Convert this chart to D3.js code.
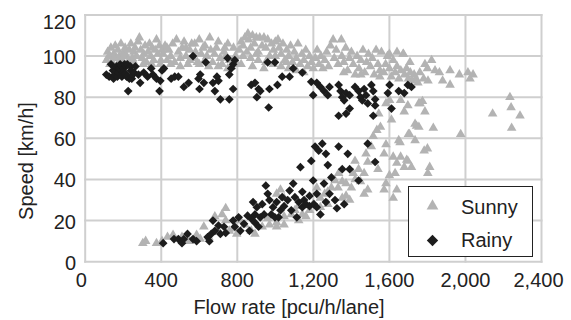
<!DOCTYPE html>
<html>
<head>
<meta charset="utf-8">
<script src="https://cdn.jsdelivr.net/npm/d3@7"></script>
<style>
  body { margin: 0; background: #fff; }
  text { font-family: "Liberation Sans", Arial, sans-serif; fill: #222; }
</style>
</head>
<body>
<div id="chart"></div>
<script>
// ticks and labels
var xTicks = [0, 400, 800, 1200, 1600, 2000, 2400];
var yTicks = [0, 20, 40, 60, 80, 100, 120];
var seriesNames = ["Sunny", "Rainy"];

// Sunny, free-flow branch [flow, speed]
var sunnyFree = [
  [112,98],[118,102],[125,100],[135,104],[142,97],[150,101],[158,105],[165,99],[172,103],[180,100],
  [188,106],[195,98],[203,102],[210,104],[218,100],[225,97],[232,103],[240,106],[248,99],[255,102],
  [262,104],[270,100],[278,107],[285,109],[292,103],[300,99],[308,101],[315,105],[322,97],[330,102],
  [338,106],[345,100],[352,104],[360,98],[368,103],[375,108],[382,101],[390,105],[398,98],[405,103],
  [130,96],[170,96],[215,96],[260,96],[305,96],[350,96],[395,96],[150,99],[200,100],[250,98],
  [410,101],[420,105],[430,98],[440,103],[450,100],[460,106],[470,97],[480,108],[490,102],[500,99],
  [510,104],[520,107],[530,100],[540,96],[550,103],[560,106],[570,99],[576,106],[580,102],[590,97],
  [600,108],[610,101],[620,104],[630,98],[640,100],[655,109],[660,103],[670,97],[680,101],[690,104],
  [700,107],[710,99],[720,96],[734,104],[740,100],[750,106],[760,98],[770,95],[780,104],[790,100],
  [800,96],[450,96],[500,95],[550,98],[600,96],[650,95],[700,95],[750,94],[430,104],[530,104],
  [630,105],[730,102],
  [810,103],[820,107],[830,105],[840,109],[856,111],[860,108],[870,104],[880,110],[890,106],[900,109],
  [910,102],[918,109],[930,105],[940,109],[950,104],[960,108],[970,100],[980,106],[990,103],[1000,107],
  [1014,108],[1020,104],[1030,101],[1040,106],[1050,98],[1060,103],[1070,100],[1080,105],[1090,97],[1100,102],
  [1110,99],[1119,106],[1130,96],[1140,101],[1150,98],[1160,103],[1170,95],[1180,100],[1190,97],[1200,94],
  [830,100],[870,99],[910,98],[950,97],[990,96],[1030,95],[1070,94],[1110,93],[1150,92],[850,102],
  [900,101],[1000,100],[1060,97],[820,96],[880,95],[940,94],
  [1210,99],[1220,103],[1230,96],[1240,100],[1250,94],[1260,98],[1270,102],[1280,95],[1290,105],[1304,108],
  [1310,99],[1320,103],[1330,96],[1347,108],[1350,100],[1360,97],[1370,104],[1380,93],[1390,99],[1400,102],
  [1410,96],[1420,91],[1430,100],[1440,94],[1450,98],[1461,103],[1470,92],[1480,97],[1490,101],[1500,95],
  [1510,99],[1520,91],[1530,103],[1540,96],[1550,93],[1558,102],[1570,92],[1580,96],[1590,100],[1600,94],
  [1610,90],[1620,98],[1630,92],[1640,95],[1650,89],[1660,93],[1672,101],[1680,91],[1690,94],[1700,89],
  [1710,92],[1720,88],[1730,91],[1740,89],[1750,87],[1360,92],[1450,91],[1550,90],[1600,101],[1640,102],
  [1674,101],[1708,97],[1760,92],[1787,96],[1803,88],[1822,98],[1840,93],[1863,92],[1880,88],[1919,93],
  [1919,86],[1968,91],[2013,92],[2024,89],[2040,91],[1780,89],[1800,94]
];

// Sunny, congested branch and scattered points [flow, speed]
var sunnyCongested = [
  [303,9],[318,10],[375,9],[404,10],[433,12],[462,13],[509,12],[548,10],[586,13],[605,11],
  [624,17],[682,22],[701,15],[720,23],[739,20],[739,26],[758,15],[797,13.5],[816,20],[873,15],
  [893,13.5],[931,17],[969,18],[1007,19],[1007,17],[1007,33],[1027,35],[1046,22],[1046,18],[1046,31],
  [1084,23],[1103,25],[1123,20],[1142,23],[1161,22],[1180,25],[1199,28],[1218,36],[1237,31],[1237,26.5],
  [1276,34],[1276,28],[1295,36],[1314,39.5],[1333,43],[1352,39],[1352,31],[1372,32],[1372,38],[1391,30],
  [1400,36],[1410,43],[1419,49],[1438,45],[1448,39],[1467,43],[1467,33],[1477,52.5],[1486,48.5],[1486,35],
  [1505,56],[1515,61],[1534,64],[1553,65.5],[1572,52.5],[1572,35],[1582,57],[1582,38],[1611,69],[1620,51],
  [1620,31],[1630,43],[1639,48],[1639,35],[1649,59],[1659,51],[1678,46],[1697,49],[1716,46],[1735,59],
  [1755,65.5],[1783,54],[1802,43],[1812,46],[1656,58],[1691,49.5],[1743,66],[1831,65],[1700,62],[1800,55],
  [1544,72],[1582,77],[1601,78.5],[1659,78.5],[1678,73],[1697,76],[1735,67],[1706,62],[1755,77],[1774,78],
  [1761,77],[1787,73],[1975,62],[2143,72],[2234,80],[2240,75],[2287,71],[2243,65],
  [650,12],[780,16],[840,18],[960,21],[1120,27],[1260,33],[1330,36],[1420,40],[1540,45],[1600,42]
];

// Rainy, free-flow branch [flow, speed]
var rainyFree = [
  [111,91],[126,90],[136,96],[146,93],[149,89],[155,91],[161,93],[165,95],[169,90],[174,92],
  [180,94],[184,96],[193,90],[193,95],[199,92],[203,94],[207,96],[213,91.5],[218,90],[222,96],
  [226,83],[232,89],[238,95],[241,93],[245,89],[251,91],[257,92],[264,95],[280,91],[289,87],
  [308,92],[328,90],[347,94],[356,91],[375,89],[391,83],[395,88],[404,93],[414,94],[452,89],
  [471,90],[490,90],[519,85],[544,87],[567,100],[596,89],[601,84],[605,91],[624,87],[634,97],
  [672,87],[682,83],[693,90],[701,88],[711,79],[749,99],[758,91],[758,79],[768,94],[778,96],
  [778,84],[787,98],[873,86],[893,87],[903,80],[912,84],[921,83],[960,97],[965,75],[969,84],
  [998,97],[1011,86],[1036,90],[1075,90],[1094,94],[1142,92],[1189,87.5],[1199,81],[1218,87],[1237,85],
  [1256,83],[1276,81],[1285,85],[1333,86],[1333,71],[1343,83],[1352,80],[1362,78.5],[1372,82],[1372,72],
  [1391,81],[1391,74.5],[1419,85],[1438,83],[1448,80],[1457,78.5],[1467,84],[1477,81],[1486,77],[1505,86],
  [1515,83],[1515,71],[1525,79],[1525,76],[1592,82],[1601,86],[1611,74.5],[1649,83],[1678,82],[1697,86],
  [1716,85]
];

// Rainy, congested branch [flow, speed]
var rainyCongested = [
  [410,9],[467,11],[490,11],[509,9],[519,11],[538,13.5],[567,11],[586,10],[644,12],[653,10],
  [663,13.5],[672,20],[682,15],[701,17.6],[711,13.5],[730,17],[739,14],[778,20],[787,17],[807,21.6],
  [816,15],[835,18.4],[854,22.4],[864,15],[873,21],[883,29],[893,23],[893,19],[903,26.5],[912,17],
  [921,21.6],[931,28],[941,23],[950,37],[960,33],[969,30],[979,23],[988,26.5],[998,21.6],[1007,29],
  [1017,21.6],[1027,25],[1036,31.4],[1046,27],[1065,30],[1075,34.6],[1084,25],[1094,38],[1103,31.4],[1113,21.6],
  [1123,29],[1132,46],[1142,34],[1142,26.5],[1151,30],[1161,28],[1180,32],[1180,27],[1189,49],[1199,39.5],
  [1203,28],[1209,56],[1218,33],[1218,26.5],[1228,54],[1237,23],[1247,57.4],[1256,38],[1266,52.5],[1266,29],
  [1276,47],[1285,33],[1295,41],[1314,30],[1324,26],[1333,56],[1352,45],[1362,28],[1381,52.5],[1391,45],
  [1438,39.5],[1486,57.4],[1525,48.5]
];

var W = 571, H = 320;

var svg = d3.select("#chart").append("svg")
    .attr("width", W)
    .attr("height", H);

var x = d3.scaleLinear().domain([0, 2400]).range([85.2, 541.5]);
var y = d3.scaleLinear().domain([0, 120]).range([261.7, 15]);

// grid, the outer frame is also grid colour
var grid = svg.append("g");
grid.selectAll("line.v").data(xTicks).enter().append("line")
    .attr("x1", function(d) { return x(d); })
    .attr("x2", function(d) { return x(d); })
    .attr("y1", y(120) - 1).attr("y2", y(0) + 1)
    .style("stroke", "#cfcfcf").style("stroke-width", 2);
grid.selectAll("line.h").data(yTicks).enter().append("line")
    .attr("y1", function(d) { return y(d); })
    .attr("y2", function(d) { return y(d); })
    .attr("x1", x(0) - 1).attr("x2", x(2400) + 1)
    .style("stroke", "#cfcfcf").style("stroke-width", 2);

// tick labels
var fmt = d3.format(",");
svg.selectAll("text.xt").data(xTicks).enter().append("text")
    .attr("x", function(d, i) { return x(d) - (i === 0 ? 4 : (i === 6 ? 3 : 0)); })
    .attr("y", 287)
    .attr("text-anchor", "middle")
    .style("font-size", "20px")
    .text(function(d) { return fmt(d); });
svg.selectAll("text.yt").data(yTicks).enter().append("text")
    .attr("x", 76)
    .attr("y", function(d) { return y(d) + (d === 120 ? 7 : 1); })
    .attr("dy", "0.35em")
    .attr("text-anchor", "end")
    .style("font-size", "20px")
    .text(function(d) { return d; });

// axis titles
svg.append("text")
    .attr("x", 289).attr("y", 314)
    .attr("text-anchor", "middle")
    .style("font-size", "20px")
    .text("Flow rate [pcu/h/lane]");
svg.append("text")
    .attr("transform", "translate(26,161) rotate(-90)")
    .attr("dy", "0.35em")
    .attr("text-anchor", "middle")
    .style("font-size", "20px")
    .text("Speed [km/h]");

var tri = d3.symbol().type(d3.symbolTriangle).size(40);
var dia = d3.symbol().type(d3.symbolSquare).size(38);

var plot = svg.append("g");
plot.selectAll("path.sunny").data(sunnyFree.concat(sunnyCongested)).enter().append("path")
    .attr("d", tri)
    .attr("transform", function(d) { return "translate(" + x(d[0]) + "," + y(d[1]) + ")"; })
    .style("fill", "#b3b3b3");
plot.selectAll("path.rainy").data(rainyFree.concat(rainyCongested)).enter().append("path")
    .attr("d", dia)
    .attr("transform", function(d) { return "translate(" + x(d[0]) + "," + y(d[1]) + ") rotate(45)"; })
    .style("fill", "#1c1c1c");

// legend
var legend = svg.append("g");
legend.append("rect")
    .attr("x", 408.5).attr("y", 186.5)
    .attr("width", 124).attr("height", 70)
    .style("fill", "#fff").style("stroke", "#222").style("stroke-width", 1);
legend.append("path")
    .attr("d", d3.symbol().type(d3.symbolTriangle).size(60))
    .attr("transform", "translate(432.5,206)")
    .style("fill", "#b3b3b3");
legend.append("path")
    .attr("d", d3.symbol().type(d3.symbolSquare).size(64))
    .attr("transform", "translate(432.5,240.5) rotate(45)")
    .style("fill", "#1c1c1c");
legend.selectAll("text.lg").data(seriesNames).enter().append("text")
    .attr("x", 461)
    .attr("y", function(d, i) { return i === 0 ? 214 : 246.5; })
    .style("font-size", "20px")
    .text(function(d) { return d; });
</script>
</body>
</html>
